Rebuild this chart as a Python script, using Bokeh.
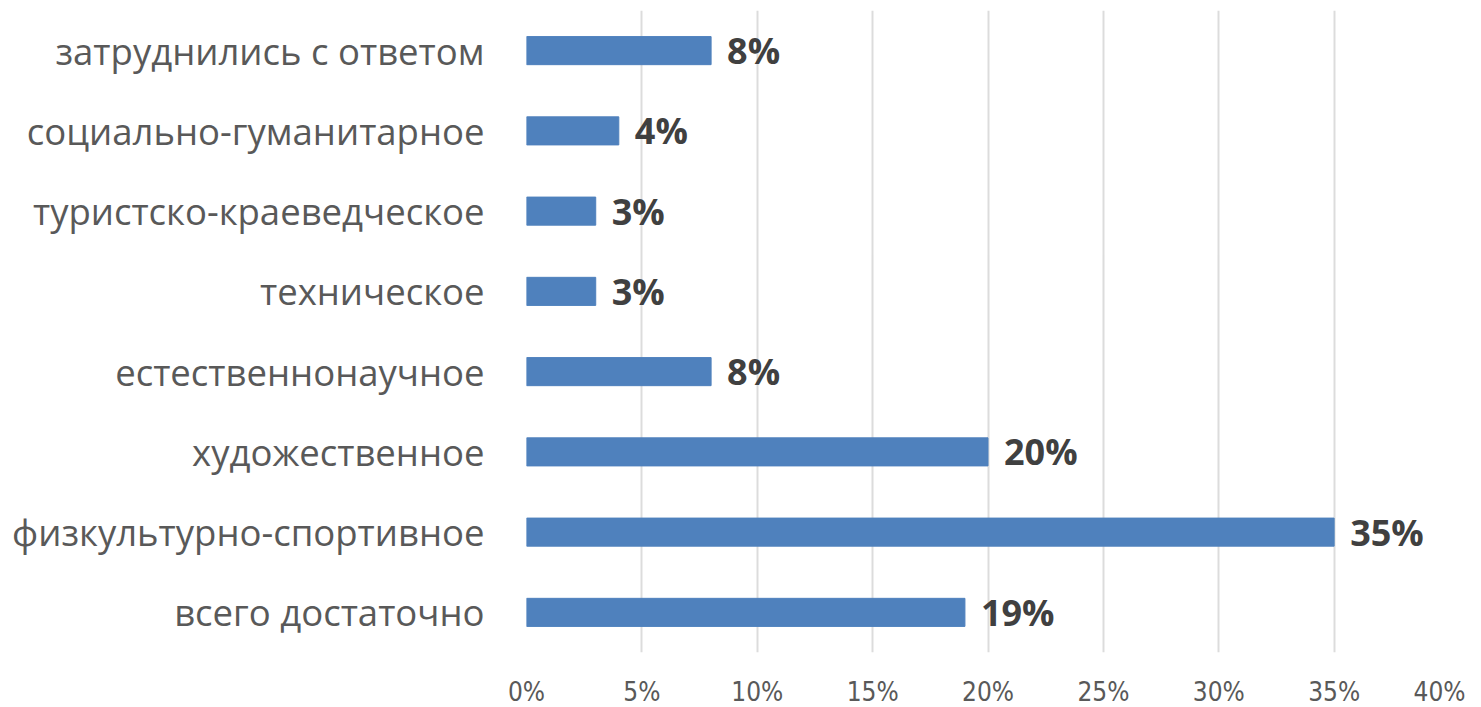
from bokeh.plotting import figure
from bokeh.models import ColumnDataSource, LabelSet, NumeralTickFormatter, FixedTicker, FactorRange, Range1d
from bokeh.core.properties import value
from bokeh.embed import file_html
from bokeh.resources import INLINE

categories = [
    "всего достаточно",
    "физкультурно-спортивное",
    "художественное",
    "естественнонаучное",
    "техническое",
    "туристско-краеведческое",
    "социально-гуманитарное",
    "затруднились с ответом",
]
values = [0.19, 0.35, 0.20, 0.08, 0.03, 0.03, 0.04, 0.08]
value_labels = ["19%", "35%", "20%", "8%", "3%", "3%", "4%", "8%"]
x_ticks = [0, 0.05, 0.10, 0.15, 0.20, 0.25, 0.30, 0.35, 0.40]

src = ColumnDataSource(dict(cat=categories, val=values, lab=value_labels))

p = figure(
    y_range=FactorRange(*categories),
    x_range=Range1d(0, 0.40),
    frame_width=923, frame_height=642,
    min_border_left=526, min_border_right=16, min_border_top=10, min_border_bottom=40,
    output_backend="svg", toolbar_location=None,
    background_fill_color="white", border_fill_color="white",
)
p.outline_line_color = None

p.hbar(y="cat", right="val", left=0, height=0.35, source=src,
       fill_color="#4F81BD", line_color="#4F81BD")

labels = LabelSet(x="val", y="cat", text="lab", source=src, x_offset=16,
                  text_baseline="middle", text_align="left",
                  text_font=value("Open Sans"), text_font_style="bold",
                  text_font_size="36px", text_color="#404040")
p.add_layout(labels)

# x axis
p.xaxis.ticker = FixedTicker(ticks=x_ticks)
p.xaxis.formatter = NumeralTickFormatter(format="0%")
p.xaxis.axis_line_color = None
p.xaxis.major_tick_line_color = None
p.xaxis.minor_tick_line_color = None
p.xaxis.major_tick_out = 0
p.xaxis.major_label_standoff = 24
p.xaxis.major_label_text_font = "Liberation Sans Narrow, DejaVu Sans Condensed, sans-serif"
p.xaxis.major_label_text_font_size = "26px"
p.xaxis.major_label_text_color = "#595959"

# y axis
p.yaxis.axis_line_color = None
p.yaxis.major_tick_line_color = None
p.yaxis.minor_tick_line_color = None
p.yaxis.major_tick_out = 0
p.yaxis.major_label_standoff = 42
p.yaxis.major_label_text_font = "Open Sans"
p.yaxis.major_label_text_font_size = "36.5px"
p.yaxis.major_label_text_color = "#595959"

p.xgrid.ticker = FixedTicker(ticks=x_ticks)
p.xgrid.grid_line_color = "#DCDCDC"
p.xgrid.grid_line_width = 2
p.ygrid.grid_line_color = None

open("out.html", "w").write(file_html(p, INLINE))
